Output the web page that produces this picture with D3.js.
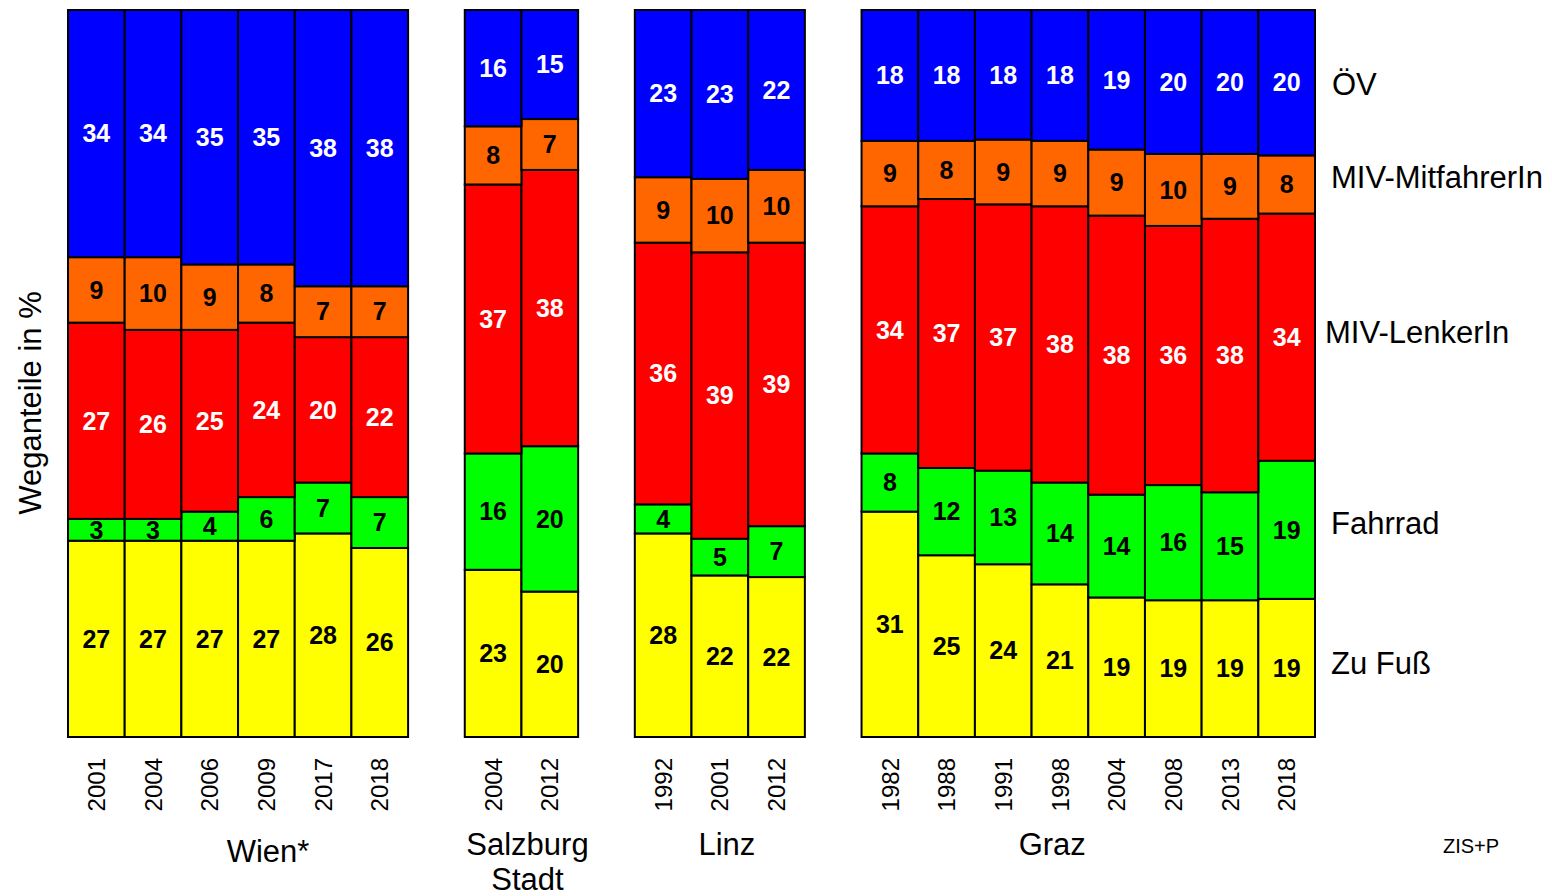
<!DOCTYPE html>
<html>
<head>
<meta charset="utf-8">
<script src="https://cdn.jsdelivr.net/npm/d3@7"></script>
<style>
  html, body { margin: 0; padding: 0; background: #fff; }
  svg { display: block; }
  text { font-family: Arial, "Liberation Sans", sans-serif; }
</style>
</head>
<body>
<svg id="chart" width="1552" height="896"></svg>
<script>
// Cities and survey years
const groups = ["Wien*", "Salzburg Stadt", "Linz", "Graz"];
const years = [
  ["2001", "2004", "2006", "2009", "2017", "2018"],
  ["2004", "2012"],
  ["1992", "2001", "2012"],
  ["1982", "1988", "1991", "1998", "2004", "2008", "2013", "2018"]
];

// Modes, stacked from bottom to top
const modes = ["Zu Fuß", "Fahrrad", "MIV-LenkerIn", "MIV-MitfahrerIn", "ÖV"];

// Shares in % per survey (Wien, Salzburg, Linz, Graz in year order)
const zuFuss    = [27, 27, 27, 27, 28, 26,  23, 20,  28, 22, 22,  31, 25, 24, 21, 19, 19, 19, 19];
const fahrrad   = [ 3,  3,  4,  6,  7,  7,  16, 20,   4,  5,  7,   8, 12, 13, 14, 14, 16, 15, 19];
const lenker    = [27, 26, 25, 24, 20, 22,  37, 38,  36, 39, 39,  34, 37, 37, 38, 38, 36, 38, 34];
const mitfahrer = [ 9, 10,  9,  8,  7,  7,   8,  7,   9, 10, 10,   9,  8,  9,  9,  9, 10,  9,  8];
const oev       = [34, 34, 35, 35, 38, 38,  16, 15,  23, 23, 22,  18, 18, 18, 18, 19, 20, 20, 20];

const seriesValues = [zuFuss, fahrrad, lenker, mitfahrer, oev];
const colors = ["#ffff00", "#00ff00", "#ff0000", "#ff6600", "#0000ff"];
const labelColors = ["#000", "#000", "#fff", "#000", "#fff"];

// One row per bar
const rows = [];
let k = 0;
groups.forEach((g, gi) => {
  years[gi].forEach(y => {
    const row = { id: g + "|" + y, group: g, year: y };
    modes.forEach((m, mi) => { row[m] = seriesValues[mi][k]; });
    rows.push(row);
    k++;
  });
});

// Band domain: bars with one empty slot between cities
const domain = [];
groups.forEach((g, gi) => {
  if (gi > 0) domain.push("gap" + gi);
  years[gi].forEach(y => domain.push(g + "|" + y));
});

const svg = d3.select("#chart");
const x = d3.scaleBand().domain(domain).range([68, 1315]).padding(0);
const y = d3.scaleLinear().domain([0, 1]).range([737, 10]);

const stack = d3.stack().keys(modes).offset(d3.stackOffsetExpand);
const stacked = stack(rows);

const layers = svg.append("g").selectAll("g")
  .data(stacked)
  .join("g")
  .attr("fill", (d, i) => colors[i]);

layers.selectAll("rect")
  .data(d => d)
  .join("rect")
  .attr("x", d => x(d.data.id))
  .attr("width", x.bandwidth())
  .attr("y", d => y(d[1]))
  .attr("height", d => y(d[0]) - y(d[1]))
  .attr("stroke", "#000")
  .attr("stroke-width", 2);

// Value labels
stacked.forEach((layer, li) => {
  svg.append("g").selectAll("text")
    .data(layer)
    .join("text")
    .attr("x", d => x(d.data.id) + x.bandwidth() / 2)
    .attr("y", d => y((d[0] + d[1]) / 2))
    .attr("dy", "0.35em")
    .attr("text-anchor", "middle")
    .attr("font-size", 25)
    .attr("font-weight", "bold")
    .attr("fill", labelColors[li])
    .text(d => d.data[layer.key]);
});

// Year labels (rotated)
svg.append("g").selectAll("text")
  .data(rows)
  .join("text")
  .attr("transform", d => `translate(${x(d.id) + x.bandwidth() / 2},758) rotate(-90)`)
  .attr("dy", "0.36em")
  .attr("text-anchor", "end")
  .attr("font-size", 24)
  .attr("fill", "#000")
  .text(d => d.year);

// City labels
const cityShift = [30, 6, 7, -36];
groups.forEach((g, gi) => {
  const ids = years[gi].map(yr => g + "|" + yr);
  const cx = (x(ids[0]) + x(ids[ids.length - 1]) + x.bandwidth()) / 2 + cityShift[gi];
  const lines = g.split(" ");
  const t = svg.append("text")
    .attr("x", cx)
    .attr("y", gi === 0 ? 862 : 855)
    .attr("text-anchor", "middle")
    .attr("font-size", 31)
    .attr("fill", "#000");
  lines.forEach((ln, i) => {
    t.append("tspan").attr("x", cx).attr("dy", i === 0 ? 0 : 35).text(ln);
  });
});

// Y axis title
svg.append("text")
  .attr("transform", "translate(30,403) rotate(-90)")
  .attr("dy", "0.35em")
  .attr("text-anchor", "middle")
  .attr("font-size", 31)
  .attr("fill", "#000")
  .text("Weganteile in %");

// Mode names at the right, next to the last bar
const last = stacked.map(l => l[l.length - 1]);
const legendX = [1331, 1331, 1325, 1331, 1332];
const legendDy = [-5, -7, -5, -7, 1];
svg.append("g").selectAll("text")
  .data(last)
  .join("text")
  .attr("x", (d, i) => legendX[i])
  .attr("y", (d, i) => y((d[0] + d[1]) / 2) + legendDy[i])
  .attr("dy", "0.35em")
  .attr("font-size", 31)
  .attr("fill", "#000")
  .text((d, i) => modes[i]);

// Source note
svg.append("text")
  .attr("x", 1443)
  .attr("y", 853)
  .attr("font-family", "'Open Sans', sans-serif")
  .attr("font-size", 20)
  .attr("fill", "#000")
  .text("ZIS+P");
</script>
</body>
</html>
